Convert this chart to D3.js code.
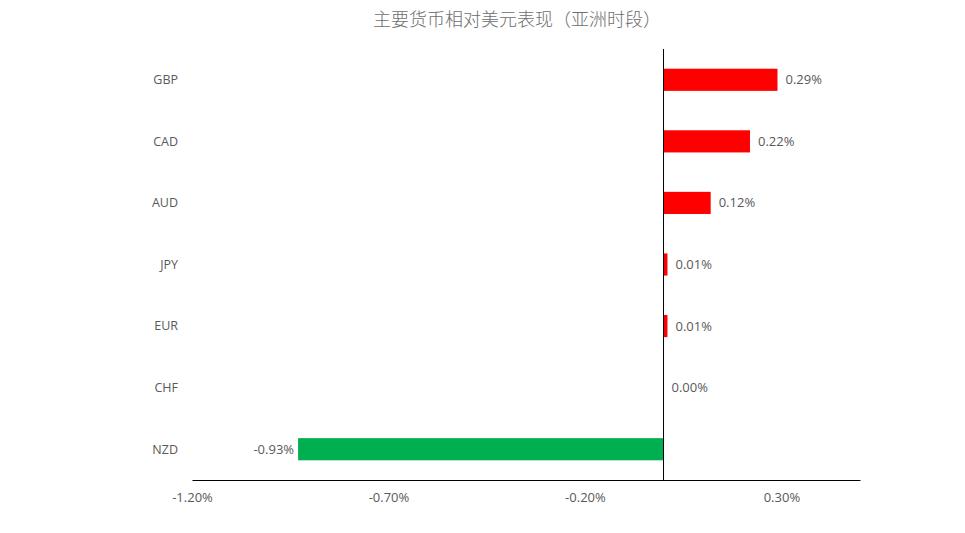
<!DOCTYPE html>
<html>
<head>
<meta charset="utf-8">
<script src="https://cdn.jsdelivr.net/npm/d3@7"></script>
<style>
  body { margin: 0; background: #fff; }
  svg text { font-family: "Open Sans", "Noto Sans", "Noto Sans CJK SC", sans-serif; fill: #595959; }
</style>
</head>
<body>
<svg id="chart" width="965" height="533"></svg>
<script>
'use strict';

const TITLE = "主要货币相对美元表现（亚洲时段）";
const currencies = ["GBP", "CAD", "AUD", "JPY", "EUR", "CHF", "NZD"];
const changes = [0.29, 0.22, 0.12, 0.01, 0.01, 0.00, -0.93];
const tickValues = [-1.2, -0.7, -0.2, 0.3];

const POS_COLOR = "#ff0000";
const NEG_COLOR = "#00b050";
const pct = d => d3.format(".2f")(d).replace("\u2212", "-") + "%";

const svg = d3.select("#chart");

const xScale = d3.scaleLinear().domain([-1.2, 0.5]).range([192, 860]);
const yScale = d3.scaleBand().domain(currencies).range([49, 480]).paddingInner(0.64).paddingOuter(0.32);

// title
svg.append("text")
   .attr("x", 517)
   .attr("y", 26)
   .attr("text-anchor", "middle")
   .style("font-family", "'Noto Sans CJK SC', sans-serif")
   .style("font-size", "18px")
   .style("font-weight", 300)
   .attr("fill", "#6e6e6e")
   .style("fill", "#6e6e6e")
   .text(TITLE);

// bars
const rows = currencies.map((c, i) => ({ cur: c, val: changes[i] }));

svg.append("g").selectAll("rect")
   .data(rows)
   .enter()
   .append("rect")
   .attr("x", d => xScale(Math.min(0, d.val)))
   .attr("y", d => yScale(d.cur))
   .attr("width", d => Math.abs(xScale(d.val) - xScale(0)))
   .attr("height", yScale.bandwidth())
   .attr("fill", d => d.val < 0 ? NEG_COLOR : POS_COLOR);

// value labels
svg.append("g").selectAll("text")
   .data(rows)
   .enter()
   .append("text")
   .attr("x", d => d.val < 0 ? xScale(d.val) - 4 : xScale(d.val) + 8)
   .attr("y", d => yScale(d.cur) + yScale.bandwidth() / 2)
   .attr("dy", "0.35em")
   .attr("text-anchor", d => d.val < 0 ? "end" : "start")
   .style("font-size", "13px")
   .text(d => pct(d.val));

// category labels
svg.append("g").selectAll("text")
   .data(currencies)
   .enter()
   .append("text")
   .attr("x", 178)
   .attr("y", d => yScale(d) + yScale.bandwidth() / 2)
   .attr("dy", "0.35em")
   .attr("text-anchor", "end")
   .style("font-size", "12.5px")
   .text(d => d);

// x axis
const axisX = svg.append("g")
   .attr("transform", "translate(0,480)")
   .call(d3.axisBottom(xScale).tickValues(tickValues).tickSize(0).tickPadding(13)
      .tickFormat(pct));
axisX.select(".domain").attr("stroke", "#000").attr("stroke-width", 1);
axisX.selectAll("text").style("font-size", "13px").attr("fill", "#595959");

// zero line
svg.append("line")
   .attr("x1", xScale(0)).attr("x2", xScale(0))
   .attr("y1", 49).attr("y2", 480)
   .attr("stroke", "#000")
   .attr("stroke-width", 1);
</script>
</body>
</html>
